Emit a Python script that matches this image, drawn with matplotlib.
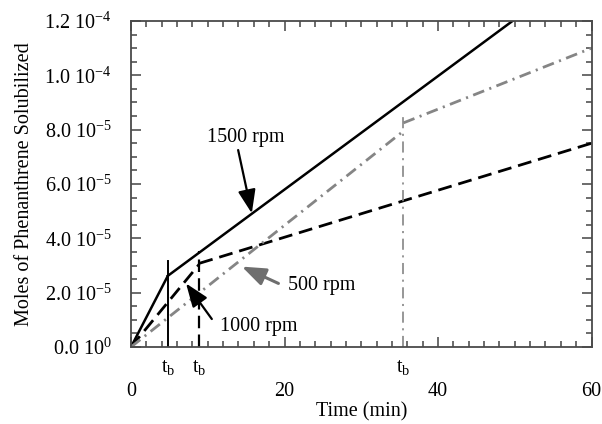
import matplotlib
matplotlib.use('Agg')
import matplotlib.pyplot as plt
from matplotlib.ticker import MultipleLocator, FixedLocator, FixedFormatter

plt.rcParams['font.family'] = ['Liberation Serif', 'DejaVu Serif']
plt.rcParams['mathtext.fontset'] = 'custom'
plt.rcParams['mathtext.rm'] = 'Liberation Serif'
plt.rcParams['mathtext.it'] = 'Liberation Serif:italic'
plt.rcParams['font.size'] = 14.5
plt.rcParams['lines.scale_dashes'] = False

# solubilized phenanthrene (mol) vs time (min), two regimes split at t_b
t_1500_a = [0, 4.8]
y_1500_a = [0, 2.62e-5]
t_1500_b = [4.8, 60]
y_1500_b = [2.62e-5, 1.415e-4]

t_1000_a = [0, 8.9]
y_1000_a = [0, 3.05e-5]
t_1000_b = [8.9, 60]
y_1000_b = [3.08e-5, 7.5e-5]

t_500_a = [0, 35.5]
y_500_a = [0, 7.95e-5]
t_500_b = [35.5, 60]
y_500_b = [8.25e-5, 1.1e-4]

# breakthrough times and heights of their marker lines
tb_times = [4.8, 8.9, 35.5]
tb_tops = [3.18e-5, 3.55e-5, 8.55e-5]

ytick_values = [0, 2e-5, 4e-5, 6e-5, 8e-5, 1e-4, 1.2e-4]
ytick_labels = ['0.0 10$^{0}$', '2.0 10$^{-5}$', '4.0 10$^{-5}$', '6.0 10$^{-5}$',
                '8.0 10$^{-5}$', '1.0 10$^{-4}$', '1.2 10$^{-4}$']

fig = plt.figure(figsize=(6.02, 4.24), dpi=100)
ax = fig.add_axes([131 / 602, 77 / 424, 460.5 / 602, 326 / 424])

gray = '#858585'
ax.plot(t_1500_a, y_1500_a, color='black', lw=1.8)
ax.plot(t_1500_b, y_1500_b, color='black', lw=1.8)
ax.plot(t_1000_a, y_1000_a, color='black', lw=2.0, dashes=(10, 5))
ax.plot(t_1000_b, y_1000_b, color='black', lw=2.0, dashes=(10, 5))
ax.plot(t_500_a, y_500_a, color=gray, lw=2.0, dashes=(8.5, 4, 1.5, 4))
ax.plot(t_500_b, y_500_b, color=gray, lw=2.0, dashes=(8.5, 4, 1.5, 4))

# vertical markers at t_b
ax.plot([tb_times[0]] * 2, [0, tb_tops[0]], color='black', lw=1.4)
ax.plot([tb_times[1]] * 2, [0, tb_tops[1]], color='black', lw=1.6, dashes=(9, 4.5))
ax.plot([tb_times[2]] * 2, [0, tb_tops[2]], color=gray, lw=1.2, dashes=(8, 4, 1.5, 4))

for t in tb_times:
    ax.text(t, -0.064, r't$_\mathrm{b}$', transform=ax.get_xaxis_transform(),
            ha='center', va='center', fontsize=14.5)

# labels with arrows
ax.annotate('', xy=(15.74, 4.92e-5), xytext=(13.96, 7.25e-5),
            arrowprops=dict(arrowstyle='-|>,head_length=0.8,head_width=0.3',
                            mutation_scale=18, color='black', lw=1.6,
                            shrinkA=0, shrinkB=0))
ax.text(15.0, 7.73e-5, '1500 rpm', ha='center', va='center')

ax.annotate('', xy=(14.44, 2.96e-5), xytext=(19.21, 2.34e-5),
            arrowprops=dict(arrowstyle='-|>,head_length=0.8,head_width=0.3',
                            mutation_scale=18, color='#6e6e6e', lw=2.2,
                            shrinkA=0, shrinkB=0))
ax.text(20.5, 2.28e-5, '500 rpm', ha='left', va='center')

ax.annotate('', xy=(7.17, 2.34e-5), xytext=(10.53, 1.03e-5),
            arrowprops=dict(arrowstyle='-|>,head_length=0.8,head_width=0.3',
                            mutation_scale=18, color='black', lw=1.6,
                            shrinkA=0, shrinkB=0))
ax.text(11.6, 7.4e-6, '1000 rpm', ha='left', va='center')

ax.set_xlim(0, 60)
ax.set_ylim(0, 1.2e-4)
ax.xaxis.set_major_locator(MultipleLocator(20))
ax.xaxis.set_minor_locator(MultipleLocator(2))
ax.yaxis.set_major_locator(FixedLocator(ytick_values))
ax.yaxis.set_major_formatter(FixedFormatter(ytick_labels))
ax.yaxis.set_minor_locator(MultipleLocator(5e-6))
ax.tick_params(which='both', direction='in', top=True, right=True, color='#444444')
ax.tick_params(which='major', length=7, width=1.1)
ax.tick_params(which='minor', length=4, width=1.1)
ax.tick_params(axis='x', which='major', pad=25)
ax.tick_params(axis='y', which='major', pad=14)
for s in ax.spines.values():
    s.set_color('#4a4a4a')
    s.set_linewidth(1.3)

ax.set_xlabel('Time (min)', va='center')
ax.xaxis.set_label_coords(0.5, -65 / 326)
ax.set_ylabel('Moles of Phenanthrene Solubilized', va='center')
ax.yaxis.set_label_coords(-106 / 460.5, 0.5)

fig.savefig('out.png', dpi=100)
